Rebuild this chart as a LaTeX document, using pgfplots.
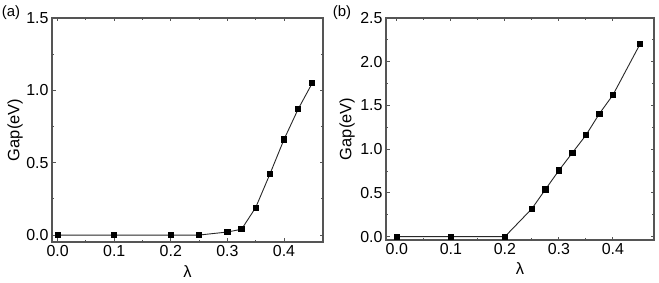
\documentclass[border=0pt]{standalone}
\usepackage{pgfplots}
\pgfplotsset{compat=1.18}
\usepackage{fontspec}
\setmainfont{Liberation Sans}
\definecolor{axgray}{RGB}{85,85,85}
\definecolor{lngray}{RGB}{40,40,40}
\pgfplotsset{
  gapstyle/.style={
    scale only axis,
    axis line style={axgray, line width=1.2bp},
    every tick/.style={axgray, line width=0.9bp},
    tick align=inside,
    major tick length=3.5bp,
    minor tick length=2bp,
    xtick={0,0.1,0.2,0.3,0.4},
    minor x tick num=1,
    minor y tick num=1,
    /pgf/number format/assume math mode=true,
    xticklabel style={/pgf/number format/.cd,fixed,fixed zerofill,precision=1},
    yticklabel style={/pgf/number format/.cd,fixed,fixed zerofill,precision=1},
    tick label style={font=\fontsize{16}{18}\selectfont, text=black},
    label style={font=\fontsize{16.5}{18}\selectfont},
    xlabel={λ},
    ylabel={Gap(eV)},
    xlabel style={at={(axis description cs:0.5,-0.103)}, anchor=north, inner sep=0pt},
    clip=false,
  },
  gapline/.style={lngray, line width=0.9bp, mark=square*, mark size=2.6bp, mark options={black, solid}},
}
\begin{document}%
\begin{tikzpicture}
\path[use as bounding box] (0,0) rectangle (659bp,283bp);
\begin{axis}[gapstyle,
  at={(52bp,41bp)}, anchor=south west, width=271bp, height=224bp,
  xmin=-0.01, xmax=0.469, ymin=-0.048, ymax=1.5,
  ytick={0,0.5,1.0,1.5},
  ylabel style={at={(axis description cs:-0.107,0.5)}, anchor=south, inner sep=0pt}]
\addplot[gapline] coordinates {
(0,0) (0.1,0) (0.2,0) (0.25,0) (0.3,0.021) (0.325,0.04) (0.35,0.19) (0.375,0.42) (0.4,0.66) (0.425,0.87) (0.45,1.05)};
\end{axis}
\begin{axis}[gapstyle,
  at={(386bp,43bp)}, anchor=south west, width=268bp, height=222bp,
  xmin=-0.02, xmax=0.476, ymin=-0.038, ymax=2.5,
  ytick={0,0.5,1.0,1.5,2.0,2.5},
  ylabel style={at={(axis description cs:-0.116,0.5)}, anchor=south, inner sep=0pt}]
\addplot[gapline] coordinates {
(0,0) (0.1,0) (0.2,0) (0.25,0.32) (0.275,0.54) (0.3,0.757) (0.325,0.96) (0.35,1.16) (0.375,1.407) (0.4,1.62) (0.45,2.20)};
\end{axis}
\node[anchor=center, font=\fontsize{15}{17}\selectfont] at (11bp,270bp) {(a)};
\node[anchor=center, font=\fontsize{15}{17}\selectfont] at (342bp,270bp) {(b)};
\end{tikzpicture}%
\end{document}
